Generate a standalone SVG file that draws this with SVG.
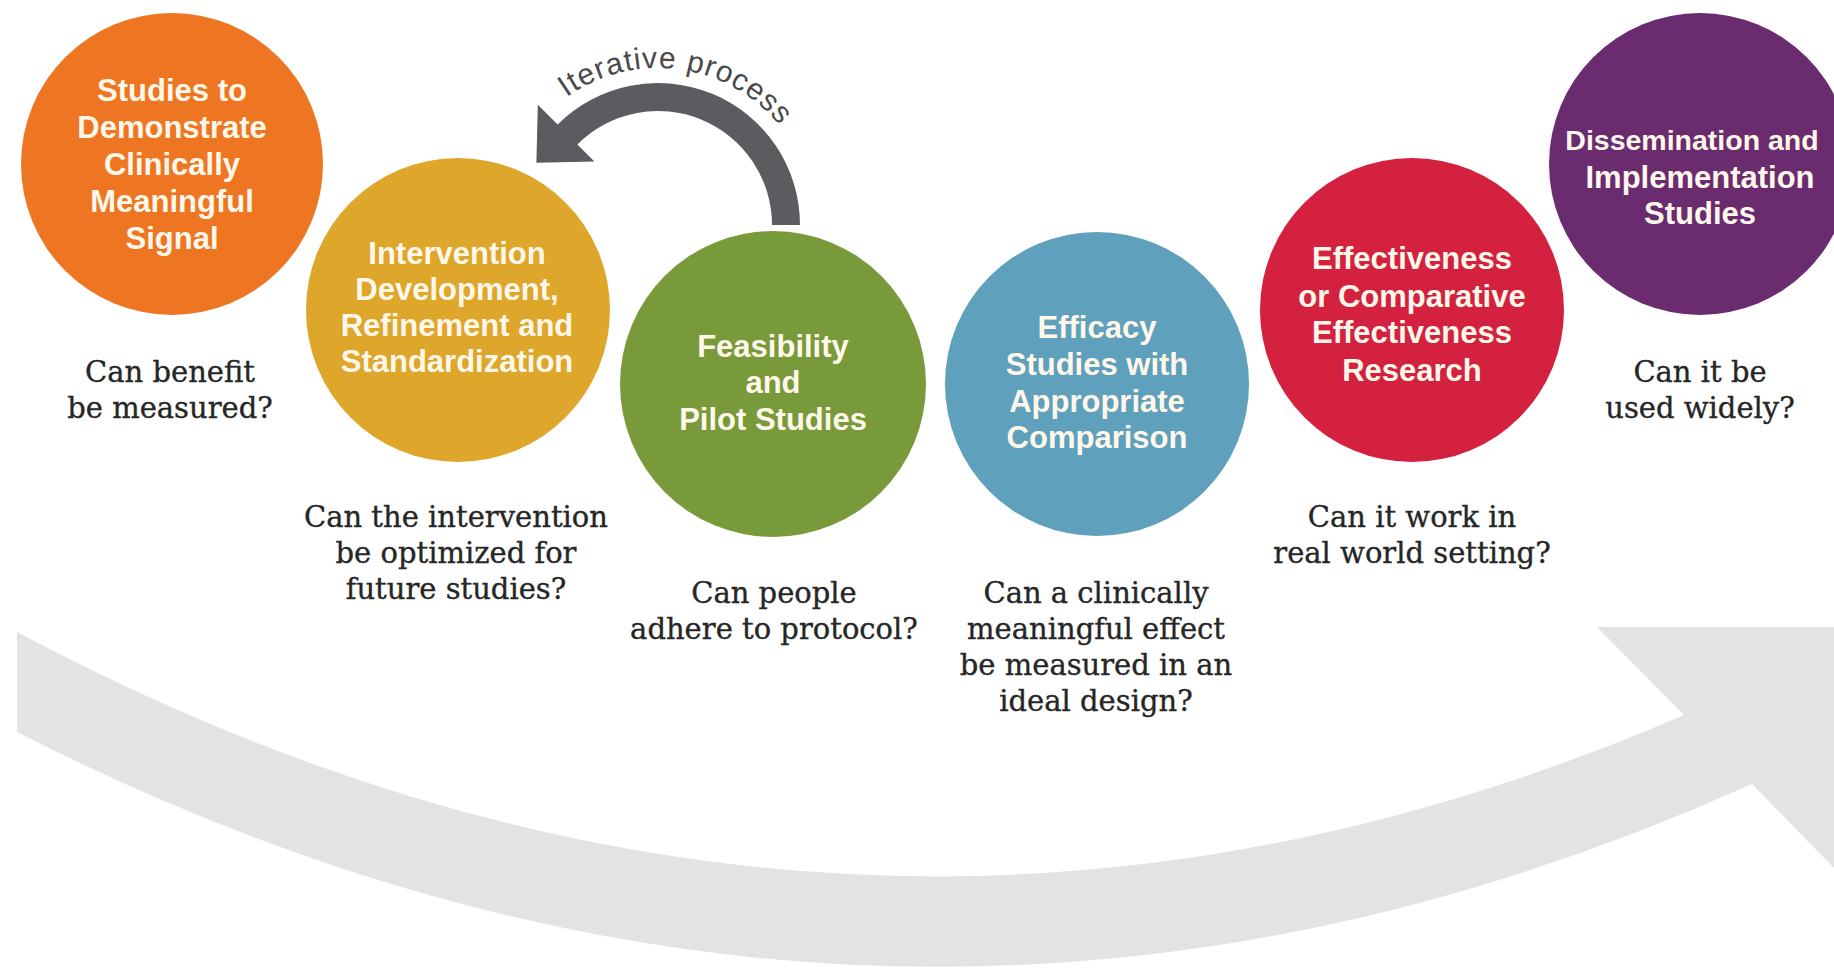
<svg xmlns="http://www.w3.org/2000/svg" width="1834" height="968" viewBox="0 0 1834 968">
  <defs>
    <style>
      .disc-label { font-family: "Liberation Sans", Arial, Helvetica, sans-serif; font-weight: bold; font-size: 31px; fill: #fff8ea; text-anchor: middle; }
      .disc-label.tight { font-size: 28.5px; }
      .question { font-family: "DejaVu Serif", "Liberation Serif", serif; font-size: 29px; fill: #262626; stroke: #262626; stroke-width: 0.35px; text-anchor: middle; }
      .loop-label { font-family: "Liberation Sans", Arial, Helvetica, sans-serif; font-size: 30px; fill: #4a4a4a; }
      .band { fill: #e3e3e3; }
      .loop { fill: #5c5c60; }
    </style>
    <path id="loop-text-path" d="M552.9,108.3 A157,157 0 0 1 789.7,139.5"/>
  </defs>

  <rect x="0" y="0" width="1834" height="968" fill="#ffffff"/>

  <!-- connectors: the wide progression arrow and the iterative loop -->
  <g id="connectors">
    <path id="progression-arrow" class="band" d="M17,632 Q850,1075 1684,715 L1597,627 L1840,627 L1838,872 L1752,784 Q884,1174 17,732 Z"/>
    <path id="iterative-arrow" class="loop" d="M800,225 A142,142 0 0 0 557.6,124.6 L537.8,104.8 L536.4,162.8 L594.4,161.4 L577.4,144.4 A114,114 0 0 1 772,225 Z"/>
    <text class="loop-label"><textPath href="#loop-text-path" startOffset="50%" text-anchor="middle" textLength="236" lengthAdjust="spacing">Iterative process</textPath></text>
  </g>

  <g id="node-signal">
    <circle cx="172" cy="164" r="151" fill="#ee7623"/>
    <text class="disc-label" x="172" y="101">Studies to</text>
    <text class="disc-label" x="172" y="138">Demonstrate</text>
    <text class="disc-label" x="172" y="175">Clinically</text>
    <text class="disc-label" x="172" y="212">Meaningful</text>
    <text class="disc-label" x="172" y="249">Signal</text>
    <text class="question" x="170" y="382">Can benefit</text>
    <text class="question" x="170" y="418">be measured?</text>
  </g>

  <g id="node-development">
    <circle cx="458" cy="310" r="152" fill="#dea62a"/>
    <text class="disc-label" x="457" y="264">Intervention</text>
    <text class="disc-label" x="457" y="300">Development,</text>
    <text class="disc-label" x="457" y="336">Refinement and</text>
    <text class="disc-label" x="457" y="372">Standardization</text>
    <text class="question" x="456" y="527">Can the intervention</text>
    <text class="question" x="456" y="563">be optimized for</text>
    <text class="question" x="456" y="599">future studies?</text>
  </g>

  <g id="node-feasibility">
    <circle cx="773" cy="384" r="153" fill="#799a3b"/>
    <text class="disc-label" x="773" y="357">Feasibility</text>
    <text class="disc-label" x="773" y="393">and</text>
    <text class="disc-label" x="773" y="430">Pilot Studies</text>
    <text class="question" x="774" y="603">Can people</text>
    <text class="question" x="774" y="639">adhere to protocol?</text>
  </g>

  <g id="node-efficacy">
    <circle cx="1097" cy="384" r="152" fill="#5fa0bd"/>
    <text class="disc-label" x="1097" y="338">Efficacy</text>
    <text class="disc-label" x="1097" y="375">Studies with</text>
    <text class="disc-label" x="1097" y="412">Appropriate</text>
    <text class="disc-label" x="1097" y="448">Comparison</text>
    <text class="question" x="1096" y="603">Can a clinically</text>
    <text class="question" x="1096" y="639">meaningful effect</text>
    <text class="question" x="1096" y="675">be measured in an</text>
    <text class="question" x="1096" y="711">ideal design?</text>
  </g>

  <g id="node-effectiveness">
    <circle cx="1412" cy="310" r="152" fill="#d3213f"/>
    <text class="disc-label" x="1412" y="269">Effectiveness</text>
    <text class="disc-label" x="1412" y="307">or Comparative</text>
    <text class="disc-label" x="1412" y="343">Effectiveness</text>
    <text class="disc-label" x="1412" y="381">Research</text>
    <text class="question" x="1412" y="527">Can it work in</text>
    <text class="question" x="1412" y="563">real world setting?</text>
  </g>

  <g id="node-dissemination">
    <circle cx="1700" cy="164" r="151" fill="#6a2b6f"/>
    <text class="disc-label tight" x="1692" y="150">Dissemination and</text>
    <text class="disc-label" x="1700" y="188">Implementation</text>
    <text class="disc-label" x="1700" y="224">Studies</text>
    <text class="question" x="1700" y="382">Can it be</text>
    <text class="question" x="1700" y="418">used widely?</text>
  </g>
</svg>
